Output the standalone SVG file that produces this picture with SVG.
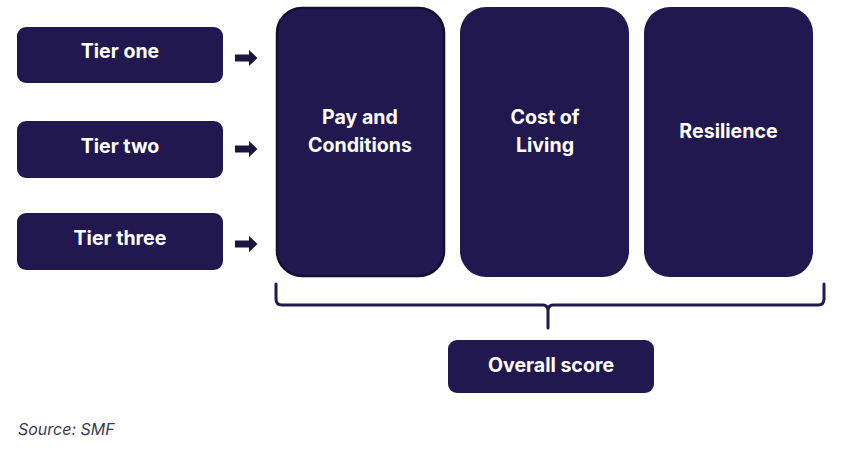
<svg xmlns="http://www.w3.org/2000/svg" width="852" height="450" viewBox="0 0 852 450">
<style>
.box{fill:#21184f}
.lbl{font-family:Inter,"Liberation Sans",sans-serif;font-weight:700;font-size:19.6px;fill:#ffffff;text-anchor:middle}
.arrow{fill:#1c1541}
.brace{fill:none;stroke:#21184f;stroke-width:3;stroke-linecap:round;stroke-linejoin:round}
.src{font-family:Inter,"Liberation Sans",sans-serif;font-style:italic;font-size:16px;fill:#3a3a52}
</style>
<rect width="852" height="450" fill="#ffffff"/>
<g id="tier-one"><rect class="box" x="17" y="27" width="206" height="56" rx="9"/><text class="lbl" x="120" y="58">Tier one</text></g>
<g id="tier-two"><rect class="box" x="17" y="121" width="206" height="57" rx="9"/><text class="lbl" x="120" y="153">Tier two</text></g>
<g id="tier-three"><rect class="box" x="17" y="213" width="206" height="57" rx="9"/><text class="lbl" x="120" y="245">Tier three</text></g>
<g id="pay"><rect class="box" x="277" y="8" width="167" height="268" rx="25" stroke="#130e33" stroke-width="2.5"/><text class="lbl" x="360" y="124">Pay and</text><text class="lbl" x="360" y="152">Conditions</text></g>
<g id="cost"><rect class="box" x="460" y="7" width="169" height="270" rx="26"/><text class="lbl" x="545" y="124">Cost of</text><text class="lbl" x="545" y="152">Living</text></g>
<g id="resilience"><rect class="box" x="644" y="7" width="169" height="270" rx="26"/><text class="lbl" x="728.5" y="138">Resilience</text></g>
<g id="overall"><rect class="box" x="448" y="340" width="206" height="53" rx="9"/><text class="lbl" x="551" y="372">Overall score</text></g>
<g id="connectors">
<path class="arrow" d="M235 54.5 H249 V50 L257.5 58 L249 66 V61.5 H235 Z"/>
<path class="arrow" d="M235 145.5 H249 V141 L257.5 149 L249 157 V152.5 H235 Z"/>
<path class="arrow" d="M235 240.5 H249 V236 L257.5 244 L249 252 V247.5 H235 Z"/>
<path class="brace" d="M276 284 V299 Q276 305 282 305 H543 Q548 305 548 311 V328 M548 311 Q548 305 553 305 H818 Q824 305 824 299 V284"/>
</g>
<text class="src" x="18" y="435">Source: SMF</text>
</svg>
